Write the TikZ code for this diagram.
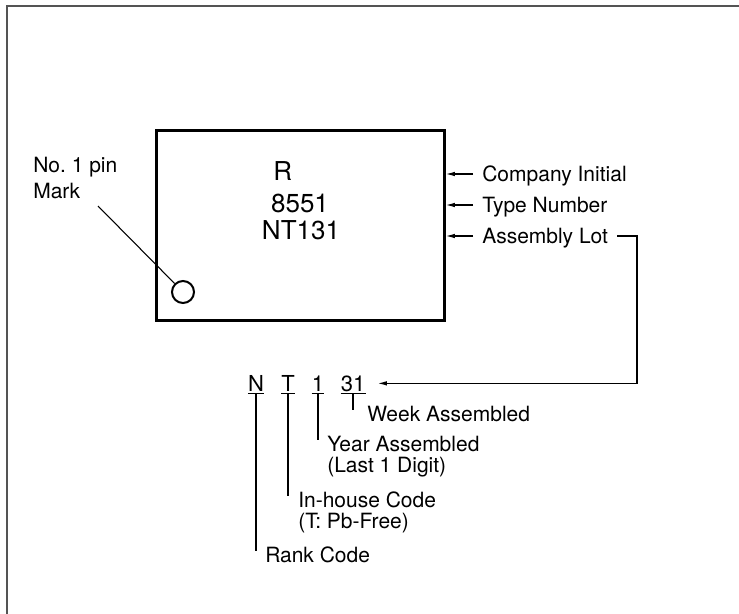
\documentclass[tikz,border=0pt]{standalone}
\usepackage{fontspec}
\setmainfont{TeX Gyre Heros}
\usetikzlibrary{arrows.meta,positioning}

\begin{document}
\begin{tikzpicture}[x=0.75pt,y=-0.75pt,
  lbl/.style={font=\fontsize{15.75}{15.5}\selectfont,align=left,inner sep=0pt},
  side/.style={lbl,text height=11.3pt,text depth=0pt,inner xsep=6.75pt},
  stamp/.style={font=\fontsize{19.5}{23}\selectfont,inner sep=0pt,text height=14pt,text depth=0pt},
  codechar/.style={font=\fontsize{16.5}{20}\selectfont,inner xsep=0pt,inner ysep=1.5pt,anchor=base},
  lead/.style={-{Latex[length=7pt,width=3.4pt]},line width=1pt},
  stem/.style={line width=0.8pt}]

\useasboundingbox (0,0) rectangle (739,614);

% Frame
\draw[line width=1.5pt,draw=black!67] (7,614) -- (7,6) -- (739,6);

% Package outline
\node[draw,line width=2.25pt,minimum width=216pt,minimum height=142.5pt] (pkg) at (300,225) {};
\node[draw,circle,line width=1.5pt,minimum size=16.5pt,inner sep=0pt] (pin) at (183,292) {};

% Marking
\node[stamp,anchor=west] (init) at (273,171) {R};
\node[stamp] (type) at (300,203) {8551};
\node[stamp] (lot) at (301,230) {NT131};

% Pin 1 mark
\node[lbl,font=\fontsize{15.75}{19.5}\selectfont,anchor=north west] (pinlbl) at (33,157) {No.~1 pin\\Mark};
\coordinate (pintail) at (98,206);
\draw[stem] (pintail) -- (pin);

% Labels on the right
\node[side,anchor=west] (ci) at (473,174) {Company Initial};
\node[side,anchor=west] (tn) at (473,205) {Type Number};
\node[side,anchor=west] (al) at (473,236) {Assembly Lot};
\foreach \n in {ci,tn,al}
  \draw[lead] (\n.west) -- (\n.west -| pkg.east);

% Lot code
\node[codechar] (cN) at (256,391) {N};
\node[codechar] (cT) at (288,391) {T};
\node[codechar] (c1) at (318,391) {1};
\node[codechar] (c31) at (353,391) {31};

\coordinate (bend) at (637,236);
\draw[lead,shorten >=9pt] (al.east) -- (al.east -| bend) |- (c31.east);

% Lot code legend
\node[lbl,anchor=north west] (wk) at (367,406) {Week Assembled};
\node[lbl,anchor=north west] (yr) at (327,436) {Year Assembled\\(Last 1 Digit)};
\node[lbl,anchor=north west] (inh) at (298,492) {In-house Code\\(T: Pb-Free)};
\node[lbl,anchor=north west] (rank) at (265,547) {Rank Code};

\foreach \c/\t in {cN/rank,cT/inh,c1/yr,c31/wk}{
  \draw[stem] (\c.south west) -- (\c.south east);
  \draw[stem,shorten >=-3pt] (\c.south) -- (\c.south |- \t.north);
}

\end{tikzpicture}
\end{document}
